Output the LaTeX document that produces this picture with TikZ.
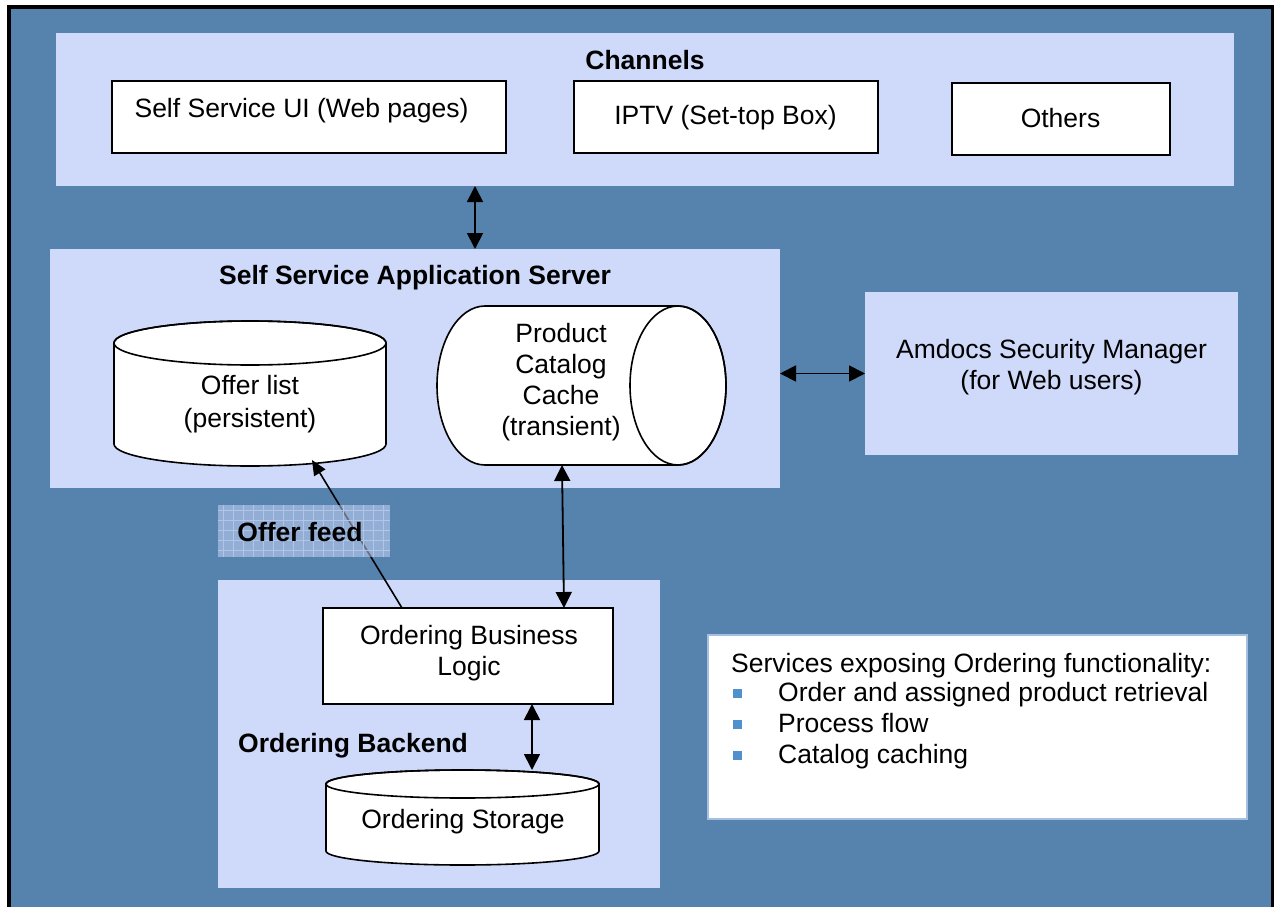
\documentclass[tikz,border=0pt]{standalone}
\usepackage{fontspec}
\setmainfont{Liberation Sans}
\usetikzlibrary{arrows.meta}
\definecolor{backblue}{RGB}{86,130,174}
\definecolor{panel}{RGB}{207,218,250}
\definecolor{feedgrid}{RGB}{178,196,232}
\definecolor{bulletblue}{RGB}{80,145,205}
\definecolor{noteedge}{RGB}{165,192,222}
\begin{document}
\begin{tikzpicture}[x=1pt,y=-1pt,
  txt/.style={font=\fontsize{26.5pt}{31pt}\selectfont, inner sep=0, align=center},
  bold/.style={font=\fontsize{26.5pt}{31pt}\selectfont\bfseries, inner sep=0, align=center},
  panelbox/.style={fill=panel, inner sep=0, outer sep=0},
  whitebox/.style={fill=white, draw=black, line width=1.6pt, inner sep=0, outer sep=0},
  area/.style={inner sep=0, outer sep=0},
  drum/.style={fill=white, draw=black, line width=1.6pt},
  rim/.style={draw=black, line width=1.6pt},
  link/.style={line width=1.8pt, {Triangle[length=16pt,width=16pt]}-{Triangle[length=16pt,width=16pt]}},
  feedlink/.style={line width=1.6pt, -{Triangle[length=15pt,width=13pt]}},
]
\clip (0,0) rectangle (1274,907);
\fill[white] (0,0) rectangle (1274,907);
\draw[fill=backblue, line width=4pt] (9,7) rectangle (1273,960);

% Channels
\node[panelbox, minimum width=1178pt, minimum height=153pt] (channels) at (645,109.5) {};
\node[bold] (channelstitle) at (645,60) {Channels};
\node[whitebox, minimum width=394pt, minimum height=72pt] (ssui) at (309,117) {};
\node[txt] (ssuitext) at (301.5,110.5) {Self Service UI (Web pages)};
\node[whitebox, minimum width=304pt, minimum height=72pt] (iptv) at (726,117) {};
\node[txt] (iptvtext) at (725.5,117.5) {IPTV (Set-top Box)};
\node[whitebox, minimum width=218pt, minimum height=72pt] (others) at (1061,119) {};
\node[txt] (otherstext) at (1060.5,118.5) {Others};

% Application server
\node[panelbox, minimum width=730pt, minimum height=239pt] (server) at (415,368.5) {};
\node[bold] (servertitle) at (415,277.5) {Self Service Application Server};

% Security manager
\node[panelbox, minimum width=373pt, minimum height=163pt] (security) at (1051.5,373.5) {};
\node[txt] (securitytext) at (1051.5,367.5) {Amdocs Security Manager\\(for Web users)};

% Offer list (upright drum)
\node[area, minimum width=272pt, minimum height=144pt] (offer) at (250,394) {};
\path[drum] (114,343) -- (114,444) arc[start angle=180,end angle=360,x radius=136pt,y radius=22pt]
  -- (386,343) arc[start angle=0,end angle=180,x radius=136pt,y radius=22pt] -- cycle;
\path[rim] (250,343) ellipse[x radius=136pt,y radius=22pt];
\node[txt, font=\fontsize{26.5pt}{33pt}\selectfont] (offertext) at (250,404.5) {Offer list\\(persistent)};
\coordinate (offertip) at (312,460);

% Product catalog cache (lying drum)
\node[area, minimum width=289pt, minimum height=159pt] (cache) at (581.5,385.5) {};
\path[drum] (485,306) -- (678,306) arc[start angle=90,end angle=-90,x radius=48pt,y radius=79.5pt]
  -- (485,465) arc[start angle=270,end angle=90,x radius=48pt,y radius=79.5pt] -- cycle;
\path[rim] (678,385.5) ellipse[x radius=48pt,y radius=79.5pt];
\node[txt] (cachetext) at (561,382) {Product\\Catalog\\Cache\\(transient)};

% Ordering backend
\node[panelbox, minimum width=442pt, minimum height=308pt] (backend) at (439,734) {};
\node[whitebox, minimum width=290pt, minimum height=96pt] (obl) at (468,656) {};
\node[txt] (obltext) at (469,653) {Ordering Business\\Logic};
\node[bold, anchor=west] (backendtitle) at (238,745.5) {Ordering Backend};
\node[area, minimum width=273pt, minimum height=95pt] (storage) at (462.5,817.5) {};
\path[drum] (326,784) -- (326,851) arc[start angle=180,end angle=360,x radius=136.5pt,y radius=14pt]
  -- (599,784) arc[start angle=0,end angle=180,x radius=136.5pt,y radius=14pt] -- cycle;
\path[rim] (462.5,784) ellipse[x radius=136.5pt,y radius=14pt];
\node[txt] (storagetext) at (463,821.5) {Ordering Storage};

% Connectors
\draw[link] ([xshift=-170pt]channels.south) -- ([xshift=60pt]server.north);
\draw[link] (server.east |- security.west) -- (security.west);
\draw[link] ([xshift=-19.5pt]cache.south) -- ([xshift=96pt]obl.north);
\draw[link] ([xshift=64pt]obl.south) -- ([xshift=69.5pt]storage.north);
\draw[feedlink] ([xshift=-66pt]obl.north) -- (offertip);

% Offer feed label (translucent hatched tag)
\node[area, minimum width=172pt, minimum height=52pt, fill=panel, fill opacity=0.5] (feed) at (304,531) {};
\begin{scope}
  \clip (218,505) rectangle (390,557);
  \foreach \gx in {223,233,...,390} \draw[feedgrid, line width=0.7pt] (\gx,505) -- (\gx,557);
  \foreach \gy in {510,520,...,557} \draw[feedgrid, line width=0.7pt] (218,\gy) -- (390,\gy);
\end{scope}
\node[bold] (feedtext) at (300,532) {Offer feed};

% Services note
\node[fill=white, draw=noteedge, line width=2pt, inner sep=0, minimum width=539pt, minimum height=184pt] (services) at (977.5,727) {};
\node[txt, anchor=base west] (servicestitle) at (731,672) {Services exposing Ordering functionality:};
\foreach \by/\lbl in {701/Order and assigned product retrieval, 732/Process flow, 763/Catalog caching}{
  \fill[bulletblue] (733,\by-12) rectangle (742,\by-3);
  \node[txt, anchor=base west] at (778,\by) {\lbl};
}
\end{tikzpicture}
\end{document}
